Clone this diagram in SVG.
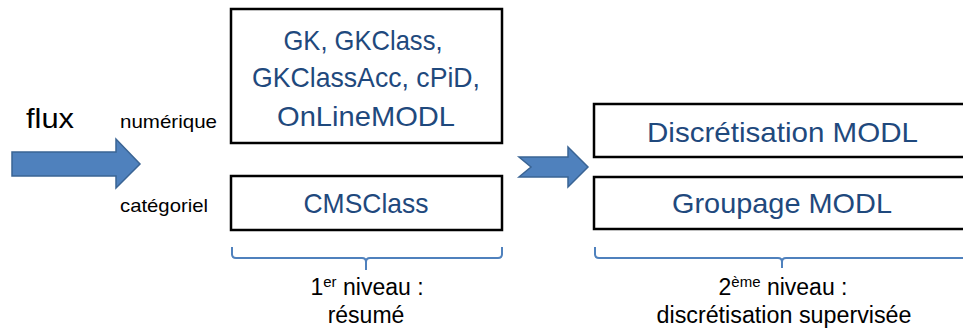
<svg xmlns="http://www.w3.org/2000/svg" width="963" height="329" viewBox="0 0 963 329">
<style>
.box{fill:#fff;stroke:#000;stroke-width:2.5}
.bt{font-family:"Liberation Sans",Arial,sans-serif;font-size:28px;fill:#1F497D;text-anchor:middle}
.lb{font-family:"Liberation Sans",Arial,sans-serif;fill:#000}
.arr{fill:#4F81BD;stroke:#3A6494;stroke-width:1.5;stroke-linejoin:miter}
.brace{fill:none;stroke:#4F81BD;stroke-width:2}
.cap{font-family:"Liberation Sans",Arial,sans-serif;font-size:23px;fill:#000;text-anchor:middle}
</style>
<rect width="963" height="329" fill="#fff"/>
<g id="labels">
<text class="lb" x="26" y="128" font-size="28" textLength="48" lengthAdjust="spacingAndGlyphs">flux</text>
<text class="lb" x="120" y="128" font-size="19" textLength="97" lengthAdjust="spacingAndGlyphs">numérique</text>
<text class="lb" x="120" y="212" font-size="19" textLength="88" lengthAdjust="spacingAndGlyphs">catégoriel</text>
</g>
<g id="connectors">
<path id="arrow-flux" class="arr" d="M12,152 L116,152 L116,139 L140,164 L116,188 L116,176 L12,176 Z"/>
<path id="arrow-level" class="arr" d="M519,157 L568,157 L568,147 L588,167 L568,187 L568,177 L519,177 L531,167 Z"/>
<path id="brace-1" class="brace" d="M232,247 L232,254 Q232,258 236,258 L362,258 Q366,258 366,262 L366,270 M366,262 Q366,258 370,258 L498,258 Q502,258 502,254 L502,247"/>
<path id="brace-2" class="brace" d="M595,247 L595,254 Q595,258 599,258 L778,258 Q782,258 782,262 L782,268 M782,262 Q782,258 786,258 L975,258"/>
</g>
<g id="node-numeric">
<rect class="box" x="231" y="9" width="271" height="134"/>
<text class="bt" x="363" y="50" textLength="159" lengthAdjust="spacingAndGlyphs">GK, GKClass,</text>
<text class="bt" x="366" y="87" textLength="228" lengthAdjust="spacingAndGlyphs">GKClassAcc, cPiD,</text>
<text class="bt" x="366" y="126" textLength="178" lengthAdjust="spacingAndGlyphs">OnLineMODL</text>
</g>
<g id="node-categorical">
<rect class="box" x="231" y="176" width="271" height="54"/>
<text class="bt" x="366" y="213" textLength="125" lengthAdjust="spacingAndGlyphs">CMSClass</text>
</g>
<g id="node-discretisation">
<rect class="box" x="594" y="104" width="380" height="53"/>
<text class="bt" x="782.5" y="142" textLength="271" lengthAdjust="spacingAndGlyphs">Discrétisation MODL</text>
</g>
<g id="node-groupage">
<rect class="box" x="594" y="177" width="380" height="52"/>
<text class="bt" x="782" y="213" textLength="220" lengthAdjust="spacingAndGlyphs">Groupage MODL</text>
</g>
<g id="captions">
<text class="cap" x="367" y="295">1<tspan font-size="15" dy="-8">er</tspan><tspan dy="8"> niveau :</tspan></text>
<text class="cap" x="366" y="323">résumé</text>
<text class="cap" x="783" y="295">2<tspan font-size="15" dy="-8">ème</tspan><tspan dy="8"> niveau :</tspan></text>
<text class="cap" x="784" y="323" textLength="255" lengthAdjust="spacingAndGlyphs">discrétisation supervisée</text>
</g>
</svg>
